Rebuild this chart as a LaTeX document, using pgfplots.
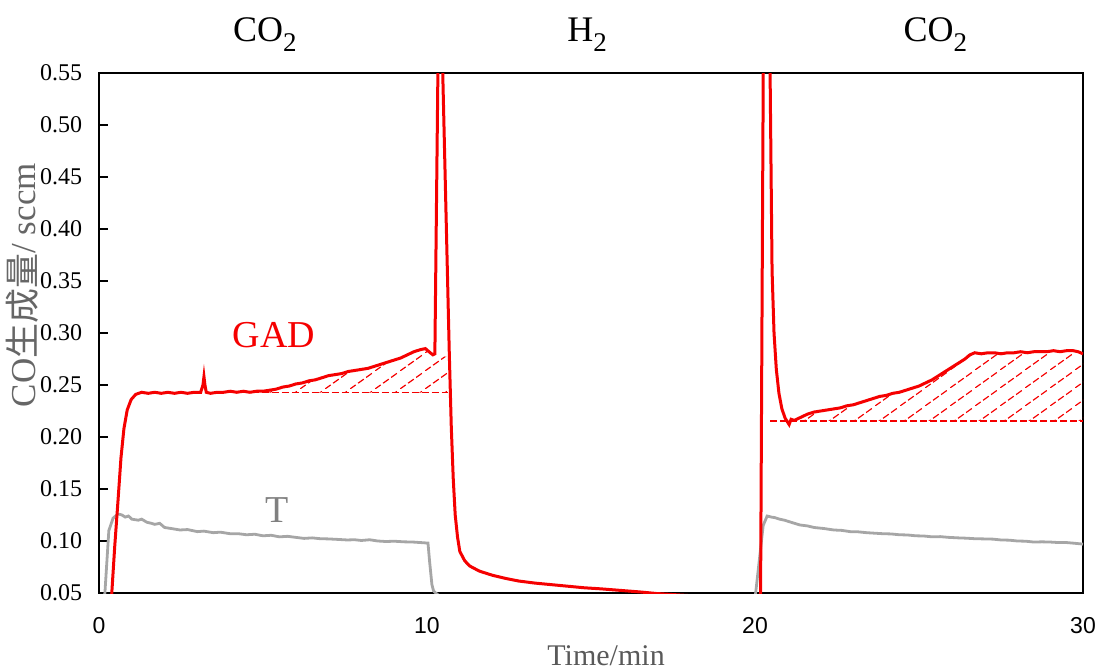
\documentclass[border=0pt]{standalone}
\usepackage{fontspec}
\setmainfont{Liberation Serif}
\newfontfamily\arial{Liberation Sans}
\newfontfamily\cjk{Noto Sans CJK JP}
\usepackage{pgfplots}
\pgfplotsset{compat=1.18}
\usetikzlibrary{patterns.meta}
\definecolor{tgray}{RGB}{166,166,166}
\definecolor{gred}{RGB}{245,0,0}
\tikzdeclarepattern{
  name=dashhatch,
  type=uncolored,
  bounding box={(0pt,0pt) and (12.5pt,8.75pt)},
  tile size={(12.5pt,8.75pt)},
  code={
    \draw[line width=0.6pt, dash pattern=on 3.6pt off 1.5pt] (0pt,0pt) -- (12.5pt,8.75pt);
  }
}
\begin{document}
\begin{tikzpicture}
\path[use as bounding box] (-49.5pt,-38pt) rectangle (499pt,296.5pt);
\begin{axis}[
  at={(0,0)}, anchor=south west,
  width=492pt, height=260pt, scale only axis,
  xmin=0, xmax=30, ymin=0.05, ymax=0.55,
  xtick={0,10,20,30},
  ytick={0.05,0.1,0.15,0.2,0.25,0.3,0.35,0.4,0.45,0.5,0.55},
  axis line style={line width=1pt},
  tick align=inside, ytick pos=left,
  xtick style={draw=none},
  ytick style={line width=0.8pt, black},
  major tick length=4.5pt,
  /pgf/number format/assume math mode=true,
  yticklabel style={font=\fontsize{12}{14}\selectfont, xshift=-4.9pt,
    /pgf/number format/.cd, fixed, fixed zerofill, precision=2},
  xticklabel style={font=\arial\fontsize{11.5}{13}\selectfont, yshift=-8.5pt},
  clip mode=individual,
]
% T (gray)
\addplot[tgray, line width=1.4pt] coordinates {
(0.10,0.04)(0.18,0.05)(0.30,0.110)(0.43,0.122)(0.58,0.126)(0.70,0.125)(0.80,0.123)(0.90,0.124)(1.00,0.121)(1.20,0.120)(1.30,0.121)(1.46,0.118)(1.60,0.117)(1.70,0.116)(1.85,0.117)(2.00,0.113)(2.20,0.112)(2.47,0.1106)(2.70,0.111)(3.00,0.109)(3.20,0.1095)(3.48,0.108)(3.70,0.1085)(4.00,0.107)(4.25,0.107)(4.50,0.106)(4.75,0.1065)(5.00,0.105)(5.25,0.1055)(5.50,0.104)(5.75,0.1045)(6.00,0.1035)(6.25,0.1025)(6.50,0.103)(6.75,0.1022)(7.00,0.102)(7.30,0.1015)(7.56,0.101)(7.80,0.1012)(8.00,0.1005)(8.25,0.1012)(8.50,0.100)(8.75,0.0995)(9.00,0.0998)(9.30,0.0992)(9.57,0.099)(9.80,0.0985)(10.03,0.098)(10.08,0.080)(10.15,0.058)(10.20,0.052)(10.30,0.049)(10.50,0.045)
};
\addplot[tgray, line width=1.4pt] coordinates {
(19.95,0.04)(20.02,0.05)(20.25,0.115)(20.37,0.124)(20.50,0.123)(20.60,0.1225)(20.75,0.121)(20.90,0.120)(21.10,0.118)(21.37,0.1154)(21.60,0.1145)(21.80,0.113)(22.10,0.112)(22.40,0.1106)(22.65,0.1102)(22.90,0.109)(23.15,0.1088)(23.40,0.108)(23.65,0.1075)(23.90,0.107)(24.15,0.1068)(24.40,0.106)(24.65,0.1058)(24.90,0.105)(25.15,0.1048)(25.40,0.104)(25.65,0.1042)(25.90,0.1035)(26.20,0.1030)(26.45,0.1027)(26.70,0.1022)(27.00,0.102)(27.25,0.1018)(27.50,0.101)(27.75,0.1008)(28.00,0.100)(28.25,0.0998)(28.50,0.099)(28.75,0.0992)(29.00,0.099)(29.25,0.0985)(29.50,0.0985)(29.75,0.0978)(30.00,0.097)
};
% hatched areas
\addplot[draw=none, pattern=dashhatch, pattern color=gred] coordinates {
(4.70,0.2426)(4.80,0.243)(5.00,0.244)(5.20,0.245)(5.40,0.246)(5.60,0.248)(5.80,0.249)(6.00,0.251)(6.20,0.252)(6.40,0.254)(6.60,0.255)(6.80,0.257)(7.00,0.259)(7.20,0.260)(7.40,0.261)(7.60,0.263)(7.80,0.264)(8.00,0.265)(8.20,0.266)(8.40,0.268)(8.60,0.270)(8.80,0.272)(9.00,0.274)(9.20,0.276)(9.40,0.279)(9.60,0.282)(9.80,0.284)(9.95,0.284)(10.10,0.281)(10.18,0.279)(10.64,0.277)(10.64,0.2426)
} -- cycle;
\addplot[draw=none, pattern=dashhatch, pattern color=gred] coordinates {
(21.10,0.2154)(21.10,0.217)(21.20,0.216)(21.40,0.219)(21.60,0.222)(21.80,0.224)(22.00,0.225)(22.20,0.226)(22.40,0.227)(22.60,0.228)(22.80,0.230)(23.00,0.231)(23.20,0.233)(23.40,0.235)(23.60,0.237)(23.80,0.239)(24.00,0.240)(24.20,0.242)(24.40,0.243)(24.60,0.245)(24.80,0.247)(25.00,0.249)(25.20,0.252)(25.40,0.255)(25.60,0.259)(25.80,0.263)(26.00,0.267)(26.20,0.271)(26.40,0.275)(26.55,0.279)(26.70,0.280)(27.00,0.280)(27.50,0.280)(28.00,0.281)(28.50,0.281)(29.00,0.282)(29.50,0.282)(30.00,0.280)(30.00,0.2154)
} -- cycle;
% dashed baselines
\addplot[gred, line width=0.6pt, dash pattern=on 3.5pt off 1.5pt] coordinates {(4.65,0.2426)(10.64,0.2426)};
\addplot[gred, line width=0.6pt, dash pattern=on 3.5pt off 1.5pt] coordinates {(20.46,0.2154)(30,0.2154)};
% GAD (red)
\addplot[gred, line width=1.5pt] coordinates {
(0.36,0.04)(0.39,0.05)(0.48,0.095)(0.58,0.139)(0.67,0.180)(0.76,0.208)(0.86,0.226)(0.98,0.236)(1.12,0.241)(1.30,0.243)(1.50,0.242)(1.70,0.243)(1.90,0.242)(2.10,0.243)(2.30,0.242)(2.50,0.243)(2.70,0.242)(2.90,0.243)(3.10,0.243)(3.17,0.250)(3.20,0.258)(3.23,0.250)(3.27,0.243)(3.40,0.242)(3.60,0.243)(3.80,0.243)(4.00,0.244)(4.20,0.243)(4.40,0.244)(4.60,0.243)(4.80,0.244)(5.00,0.244)(5.20,0.245)(5.40,0.246)(5.60,0.248)(5.80,0.249)(6.00,0.251)(6.20,0.252)(6.40,0.254)(6.60,0.255)(6.80,0.257)(7.00,0.259)(7.20,0.260)(7.40,0.261)(7.60,0.263)(7.80,0.264)(8.00,0.265)(8.20,0.266)(8.40,0.268)(8.60,0.270)(8.80,0.272)(9.00,0.274)(9.20,0.276)(9.40,0.279)(9.60,0.282)(9.80,0.284)(9.95,0.285)(10.10,0.281)(10.18,0.279)(10.24,0.280)(10.38,0.69)(10.48,0.55)(10.58,0.415)(10.68,0.280)(10.74,0.210)(10.80,0.160)(10.86,0.125)(10.93,0.104)(11.00,0.090)(11.15,0.081)(11.30,0.076)(11.60,0.071)(12.00,0.067)(12.40,0.064)(12.80,0.0615)(13.30,0.0595)(13.80,0.058)(14.30,0.0565)(14.80,0.055)(15.30,0.054)(15.90,0.0525)(16.50,0.0510)(17.00,0.0495)(18.00,0.0475)(20.00,0.046)(20.12,0.040)(20.17,0.050)(20.31,0.91)(20.46,0.55)(20.52,0.360)(20.58,0.300)(20.65,0.265)(20.73,0.242)(20.82,0.227)(20.92,0.218)(21.04,0.212)(21.10,0.217)(21.20,0.216)(21.40,0.219)(21.60,0.222)(21.80,0.224)(22.00,0.225)(22.20,0.226)(22.40,0.227)(22.60,0.228)(22.80,0.230)(23.00,0.231)(23.20,0.233)(23.40,0.235)(23.60,0.237)(23.80,0.239)(24.00,0.240)(24.20,0.242)(24.40,0.243)(24.60,0.245)(24.80,0.247)(25.00,0.249)(25.20,0.252)(25.40,0.255)(25.60,0.259)(25.80,0.263)(26.00,0.267)(26.20,0.271)(26.40,0.275)(26.55,0.279)(26.70,0.281)(26.90,0.280)(27.10,0.281)(27.30,0.281)(27.50,0.280)(27.70,0.281)(27.90,0.281)(28.10,0.282)(28.30,0.281)(28.50,0.282)(28.70,0.282)(28.90,0.282)(29.10,0.283)(29.30,0.282)(29.50,0.283)(29.70,0.283)(29.85,0.282)(30.00,0.280)
};
% labels
\node[anchor=base, font=\fontsize{18}{20}\selectfont, yshift=15.75pt] at (axis cs:5.06,0.55) {CO\raisebox{-5pt}{\fontsize{13.5}{14}\selectfont 2}};
\node[anchor=base, font=\fontsize{18}{20}\selectfont, yshift=15.75pt] at (axis cs:14.88,0.55) {H\raisebox{-5pt}{\fontsize{13.5}{14}\selectfont 2}};
\node[anchor=base, font=\fontsize{18}{20}\selectfont, yshift=15.75pt] at (axis cs:25.5,0.55) {CO\raisebox{-5pt}{\fontsize{13.5}{14}\selectfont 2}};
\node[anchor=base, text=gred, font=\fontsize{19}{20}\selectfont] at (axis cs:5.34,0.2856) {GAD};
\node[anchor=base, text=black!50, font=\fontsize{19}{20}\selectfont] at (axis cs:5.43,0.118) {T};
\node[anchor=base, text=black!65, font=\fontsize{15}{16}\selectfont, yshift=-36pt] at (axis cs:15.46,0.05) {Time/min};
\node[rotate=90, inner sep=0pt, text=black!60, font=\fontsize{17.5}{20}\selectfont] at (axis description cs:-0.078,0.592) {CO{\cjk 生成量}/ sccm};
\end{axis}
\end{tikzpicture}
\end{document}
